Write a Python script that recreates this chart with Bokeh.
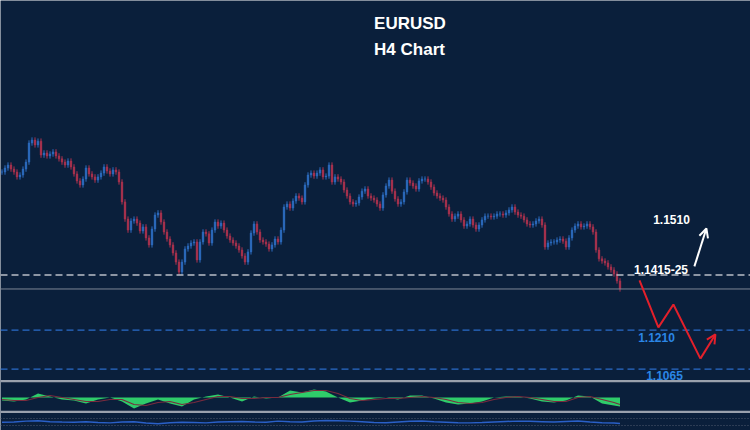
import numpy as np
from bokeh.plotting import figure
from bokeh.models import Range1d, ColumnDataSource, Arrow, OpenHead
from bokeh.embed import file_html
from bokeh.resources import INLINE
from bokeh.core.properties import value

# ---------------- data ----------------
# H4 closing prices (one every bar)
closes = [
    1.1798, 1.1813, 1.1824, 1.1809, 1.1798, 1.1780, 1.1787, 1.1809, 1.1835, 1.1906,
    1.1917, 1.1899, 1.1913, 1.1861, 1.1869, 1.1858, 1.1865, 1.1873, 1.1858, 1.1847,
    1.1835, 1.1824, 1.1839, 1.1817, 1.1791, 1.1765, 1.1750, 1.1772, 1.1813, 1.1791,
    1.1780, 1.1768, 1.1780, 1.1794, 1.1817, 1.1802, 1.1791, 1.1806, 1.1798, 1.1761,
    1.1687, 1.1623, 1.1582, 1.1616, 1.1623, 1.1608, 1.1579, 1.1594, 1.1553, 1.1527,
    1.1586, 1.1638, 1.1646, 1.1612, 1.1575, 1.1549, 1.1527, 1.1497, 1.1463, 1.1426,
    1.1463, 1.1512, 1.1523, 1.1534, 1.1538, 1.1471, 1.1538, 1.1575, 1.1568, 1.1534,
    1.1582, 1.1612, 1.1597, 1.1608, 1.1582, 1.1560, 1.1545, 1.1534, 1.1523, 1.1508,
    1.1486, 1.1463, 1.1501, 1.1571, 1.1605, 1.1575, 1.1545, 1.1538, 1.1530, 1.1512,
    1.1527, 1.1549, 1.1538, 1.1582, 1.1668, 1.1679, 1.1664, 1.1690, 1.1709, 1.1701,
    1.1687, 1.1750, 1.1787, 1.1794, 1.1783, 1.1794, 1.1806, 1.1780, 1.1783, 1.1824,
    1.1761, 1.1780, 1.1772, 1.1761, 1.1731, 1.1709, 1.1687, 1.1679, 1.1683, 1.1705,
    1.1727, 1.1735, 1.1709, 1.1701, 1.1694, 1.1679, 1.1664, 1.1713, 1.1746, 1.1768,
    1.1727, 1.1698, 1.1679, 1.1687, 1.1724, 1.1768, 1.1757, 1.1746, 1.1735, 1.1765,
    1.1772, 1.1772, 1.1761, 1.1742, 1.1720, 1.1709, 1.1701, 1.1694, 1.1668, 1.1642,
    1.1623, 1.1634, 1.1642, 1.1620, 1.1597, 1.1605, 1.1623, 1.1601, 1.1586, 1.1601,
    1.1620, 1.1634, 1.1634, 1.1631, 1.1634, 1.1642, 1.1642, 1.1638, 1.1646, 1.1657,
    1.1668, 1.1649, 1.1638, 1.1634, 1.1620, 1.1605, 1.1601, 1.1605, 1.1616, 1.1623,
    1.1601, 1.1519, 1.1534, 1.1538, 1.1538, 1.1545, 1.1549, 1.1541, 1.1519, 1.1553,
    1.1582, 1.1597, 1.1605, 1.1594, 1.1597, 1.1605, 1.1594, 1.1575, 1.1508, 1.1475,
    1.1467, 1.1460, 1.1445, 1.1434, 1.1419, 1.1393, 1.1363,
]

# key levels
resistance_level = 1.1415
support_levels = [1.1210, 1.1065]
last_price = 1.1363

# projected paths (bar index, price)
bear_x = [212.5, 218.8, 223.8, 232.8, 237.8]
bear_y = [1.1395, 1.1220, 1.1305, 1.1104, 1.1194]
bull_x = [230.8, 234.8]
bull_y = [1.1447, 1.1588]

# level labels
label_texts = ["1.1510", "1.1415-25", "1.1210", "1.1065"]

# oscillator (MACD, pips) and its signal, every 4 bars
macd = [-3, -4, -2, 4, 1, -2, -3, -6, -2, 0,
        -4, -11, -6, -2, -6, -9, -2, 1, 3, 0,
        -4, 1, -1, 0, 7, 5, 8, 6, 0, -5,
        -3, -1, 0, -2, 2, 2, -1, -5, -7, -6,
        -4, 0, 1, 1, -1, -4, -5, -3, 2, 1,
        -6, -8, -9]
signal = [-2, -3, -3, 0, 2, 0, -2, -4, -4, -2,
          -2, -7, -8, -5, -4, -7, -5, -2, 1, 1,
          -1, -1, 0, 0, 3, 5, 7, 7, 4, -1,
          -3, -2, -1, -1, 0, 1, 0, -2, -5, -6,
          -5, -2, 0, 1, 0, -2, -4, -4, 0, 1,
          -2, -5, -7]
# lower oscillator (RSI-like), every 4 bars
rsi = [48, 50, 55, 57, 52, 50, 49, 51, 47, 45,
       50, 52, 44, 40, 46, 49, 47, 45, 50, 52,
       53, 50, 48, 55, 52, 50, 56, 58, 57, 55,
       52, 47, 46, 50, 54, 56, 52, 49, 46, 45,
       47, 50, 53, 55, 54, 52, 50, 53, 56, 50,
       46, 44, 42]

# ---------------- layout ----------------
W, H = 750, 430
BG = "#0a1f3b"
PX = 0.000372                      # price per screen pixel
TOP = resistance_level + 274.5 * PX
BOT = TOP - H * PX
BAR_PX = 3.0
X0 = -0.5
X1 = X0 + W / BAR_PX

def sx(px):
    return X0 + px / BAR_PX

def sy(py):
    return TOP - py * PX

p = figure(width=W, height=H, output_backend="svg", toolbar_location=None,
           x_range=Range1d(X0, X1), y_range=Range1d(BOT, TOP),
           x_axis_location=None, y_axis_location=None,
           min_border=0, min_border_left=0, min_border_right=0,
           min_border_top=0, min_border_bottom=0,
           background_fill_color=BG, border_fill_color=BG,
           outline_line_color=None)
p.grid.visible = False

# oscillator ranges: zero at 397 px, 1 pip per px
p.extra_y_ranges = {
    "osc": Range1d(397 - H, 397),
    "rsi": Range1d(50 - (H - 421.5) * 40 / 7, 50 + 421.5 * 40 / 7),
}

# ---------------- candles ----------------
c = np.array(closes)
o = np.concatenate([[c[0]], c[:-1]])
WICK = 0.0010
hi = np.maximum(o, c) + WICK
lo = np.minimum(o, c) - WICK
up = c >= o
cols = np.where(up, "#2d6cc0", "#ad324f")
src = ColumnDataSource(dict(x=np.arange(len(c)), o=o, c=c, hi=hi, lo=lo,
                            top=np.maximum(o, c), bot=np.minimum(o, c), col=cols))
p.segment("x", "hi", "x", "lo", source=src, line_color="col", line_width=1)
p.vbar("x", 0.55, "top", "bot", source=src, fill_color="col", line_color="col", line_width=0.5)

# ---------------- levels ----------------
xs_full = [X0, X1]
p.line(xs_full, [resistance_level] * 2, line_color="#b9bec7", line_width=1.6, line_dash="7 4")
p.line(xs_full, [last_price] * 2, line_color="#7d8696", line_width=1)
for lv in support_levels:
    p.line(xs_full, [lv] * 2, line_color="#2a6cc9", line_width=1.2, line_dash="7 4")

# ---------------- projections ----------------
RED = "#e3202b"
p.line(bear_x[:-1], bear_y[:-1], line_color=RED, line_width=2)
p.add_layout(Arrow(end=OpenHead(size=9, line_color=RED, line_width=2),
                   x_start=bear_x[-2], y_start=bear_y[-2],
                   x_end=bear_x[-1], y_end=bear_y[-1],
                   line_color=RED, line_width=2))
p.add_layout(Arrow(end=OpenHead(size=9, line_color="#ffffff", line_width=2),
                   x_start=bull_x[0], y_start=bull_y[0],
                   x_end=bull_x[1], y_end=bull_y[1],
                   line_color="#ffffff", line_width=2))

# ---------------- labels ----------------
lab_px_x = [671, 660.5, 656, 664]
lab_px_y = [218.5, 268.5, 337, 374.5]
lab_cols = ["#ffffff", "#ffffff", "#2b86e6", "#2b86e6"]
p.text([sx(v) for v in lab_px_x], [sy(v) for v in lab_px_y], text=label_texts,
       text_color=lab_cols, text_font=value("Liberation Sans"),
       text_font_style="bold", text_font_size="12px",
       text_align="center", text_baseline="middle")

p.text([sx(409.5), sx(409)], [sy(22.5), sy(48.5)], text=["EURUSD", "H4 Chart"],
       text_color="#ffffff", text_font=value("Liberation Sans"),
       text_font_style="bold", text_font_size="17px",
       text_align="center", text_baseline="middle")

# ---------------- oscillator panel ----------------
p.line(xs_full, [397 - 380.7] * 2, y_range_name="osc", line_color="#9aa1ad", line_width=2.2)
p.line(xs_full, [397 - 411.3] * 2, y_range_name="osc", line_color="#9aa1ad", line_width=2.2)
mx = np.minimum(np.arange(len(macd)) * 4, len(c) - 1)
p.varea(x=mx, y1=np.zeros(len(macd)), y2=macd, y_range_name="osc", fill_color="#2fcc6a")
p.line(mx, signal, y_range_name="osc", line_color="#7a2b3e", line_width=1.2)

# ---------------- lower panel ----------------
rx = np.minimum(np.arange(len(rsi)) * 4, len(c) - 1)
p.line(xs_full, [70, 70], y_range_name="rsi", line_color="#4f5a6e", line_width=1, line_dash="1 2")
p.line(xs_full, [30, 30], y_range_name="rsi", line_color="#4f5a6e", line_width=1, line_dash="1 2")
p.line(rx, rsi, y_range_name="rsi", line_color="#2a60c8", line_width=1.5)

open("out.html", "w").write(file_html(p, INLINE))
